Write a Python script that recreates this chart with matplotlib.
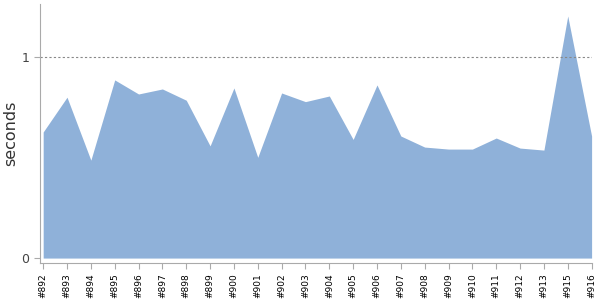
import matplotlib
matplotlib.use("Agg")
import matplotlib.pyplot as plt

# build labels and their run times (seconds)
builds = ['#892', '#893', '#894', '#895', '#896', '#897', '#898', '#899',
          '#900', '#901', '#902', '#903', '#904', '#905', '#906', '#907',
          '#908', '#909', '#910', '#911', '#912', '#913', '#915', '#916']
seconds = [0.627, 0.80, 0.487, 0.886, 0.816, 0.841, 0.785, 0.558,
           0.846, 0.501, 0.821, 0.778, 0.806, 0.590, 0.861, 0.607,
           0.552, 0.542, 0.542, 0.597, 0.547, 0.537, 1.204, 0.607]
threshold = 1.0

fig = plt.figure(figsize=(6, 3), dpi=100)
ax = fig.add_axes([0.066, 0.123, 0.92, 0.864])

x = list(range(len(builds)))
ax.fill_between(x, 0, seconds, color='#8fb1d9', linewidth=0)
ax.axhline(threshold, color='#888888', linestyle=(0, (2, 2)), linewidth=0.8)

ax.set_xlim(-0.15, len(builds) - 1)
ax.set_ylim(-0.025, 1.264)
ax.set_xticks(x)
ax.set_xticklabels(builds, rotation=90, fontsize=6.5)
ax.set_yticks([0, 1])
ax.set_yticklabels(['0', '1'], fontsize=9, color='#444444')
ax.set_ylabel('seconds', fontsize=11.5, color='#333333')
ax.yaxis.set_label_coords(-0.038, 0.5)

for side in ['top', 'right']:
    ax.spines[side].set_visible(False)
for side in ['left', 'bottom']:
    ax.spines[side].set_color('#aaaaaa')
ax.tick_params(axis='both', color='#aaaaaa', length=4, width=0.8)

fig.savefig('out.png', dpi=100)
